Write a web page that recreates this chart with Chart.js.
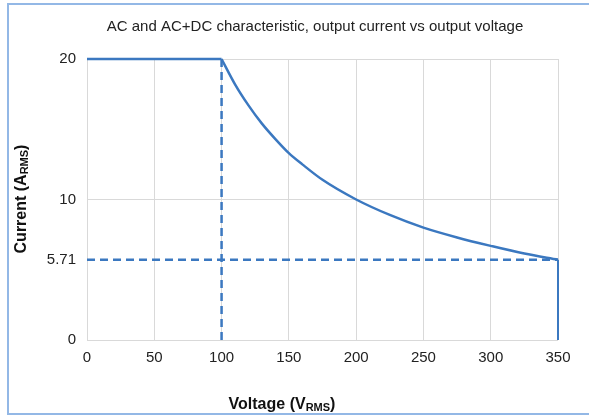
<!DOCTYPE html>
<html>
<head>
<meta charset="utf-8">
<script src="https://cdn.jsdelivr.net/npm/chart.js@4/dist/chart.umd.min.js"></script>
<style>
  html, body { margin: 0; padding: 0; background: #fff; }
  #wrap { width: 589px; height: 418px; position: relative; }
</style>
</head>
<body>
<div id="wrap"><canvas id="chart" width="589" height="418"></canvas></div>
<script>
// values
const flatVoltage = [0, 100];
const flatCurrent = [20, 20];
const curveVoltage = [100, 110, 120, 130, 140, 150, 160, 175, 200, 225, 250, 275, 300, 325, 350];
const curveCurrent = [20, 18.2, 16.7, 15.4, 14.3, 13.3, 12.5, 11.4, 10, 8.9, 8, 7.3, 6.7, 6.15, 5.71];
const dropVoltage = [350, 350];
const dropCurrent = [5.71, 0];
const kneeVoltage = [100, 100];
const kneeCurrent = [0, 20];
const limitVoltage = [0, 350];
const limitCurrent = [5.71, 5.71];
const yTicks = [0, 5.71, 10, 20];

const BLUE = "#3b78c0";
const FONT = "'Liberation Sans', Arial, sans-serif";

const toPoints = (xs, ys) => xs.map((x, i) => ({x: x, y: ys[i]}));

const lineSet = (xs, ys, dashed, smooth, width) => ({
  data: toPoints(xs, ys),
  borderColor: BLUE,
  borderWidth: width || 2.5,
  borderDash: dashed ? [8, 5] : [],
  pointRadius: 0,
  fill: false,
  clip: 5,
  tension: smooth ? 0.4 : 0,
  cubicInterpolationMode: smooth ? "monotone" : "default"
});

const textWithSub = (ctx, parts, x, y) => {
  // parts: [main, sub, tail], drawn centred at x
  ctx.font = "bold 16px " + FONT;
  const w1 = ctx.measureText(parts[0]).width;
  const w3 = ctx.measureText(parts[2]).width;
  ctx.font = "bold 11px " + FONT;
  const w2 = ctx.measureText(parts[1]).width;
  let left = x - (w1 + w2 + w3) / 2;
  ctx.textAlign = "left";
  ctx.textBaseline = "alphabetic";
  ctx.font = "bold 16px " + FONT;
  ctx.fillText(parts[0], left, y);
  ctx.font = "bold 11px " + FONT;
  ctx.fillText(parts[1], left + w1, y + 2);
  ctx.font = "bold 16px " + FONT;
  ctx.fillText(parts[2], left + w1 + w2, y);
};

const decorations = {
  id: "decorations",
  afterDraw(chart) {
    const ctx = chart.ctx;
    ctx.save();
    // frame
    ctx.strokeStyle = "#93b8e6";
    ctx.lineWidth = 2;
    ctx.beginPath();
    ctx.moveTo(589, 4);
    ctx.lineTo(8, 4);
    ctx.lineTo(8, 414);
    ctx.lineTo(589, 414);
    ctx.stroke();
    // title
    ctx.fillStyle = "#222";
    ctx.font = "15px " + FONT;
    ctx.textAlign = "center";
    ctx.textBaseline = "middle";
    ctx.fillText("AC and AC+DC characteristic, output current vs output voltage", 315, 27);
    // axis titles
    ctx.fillStyle = "#111";
    textWithSub(ctx, ["Voltage (V", "RMS", ")"], 282, 409);
    ctx.translate(26, 199);
    ctx.rotate(-Math.PI / 2);
    textWithSub(ctx, ["Current (A", "RMS", ")"], 0, 0);
    ctx.restore();
  }
};

new Chart(document.getElementById("chart"), {
  type: "scatter",
  data: {
    datasets: [
      lineSet(kneeVoltage, kneeCurrent, true, false),
      lineSet(limitVoltage, limitCurrent, true, false),
      lineSet(flatVoltage, flatCurrent, false, false),
      lineSet(curveVoltage, curveCurrent, false, true),
      lineSet(dropVoltage, dropCurrent, false, false, 2)
    ].map((d) => Object.assign(d, {showLine: true}))
  },
  options: {
    responsive: false,
    animation: false,
    layout: {padding: {top: 59, right: 31, bottom: 0, left: 0}},
    plugins: {legend: {display: false}, tooltip: {enabled: false}},
    scales: {
      x: {
        type: "linear",
        min: 0,
        max: 350,
        ticks: {stepSize: 50, color: "#222", font: {family: FONT, size: 15}, padding: 9},
        grid: {color: "#d9d9d9", lineWidth: 1, drawTicks: false},
        border: {display: false},
        afterFit: (axis) => { axis.height = 78; }
      },
      y: {
        type: "linear",
        min: 0,
        max: 20,
        afterBuildTicks: (axis) => { axis.ticks = yTicks.map((v) => ({value: v})); },
        ticks: {color: "#222", font: {family: FONT, size: 15}, padding: 11,
          callback: (v) => String(v)},
        grid: {
          color: (c) => (c.tick && c.tick.value === 5.71 ? "rgba(0,0,0,0)" : "#d9d9d9"),
          lineWidth: 1, drawTicks: false
        },
        border: {display: false},
        afterFit: (axis) => { axis.width = 87; }
      }
    }
  },
  plugins: [decorations]
});
</script>
</body>
</html>
